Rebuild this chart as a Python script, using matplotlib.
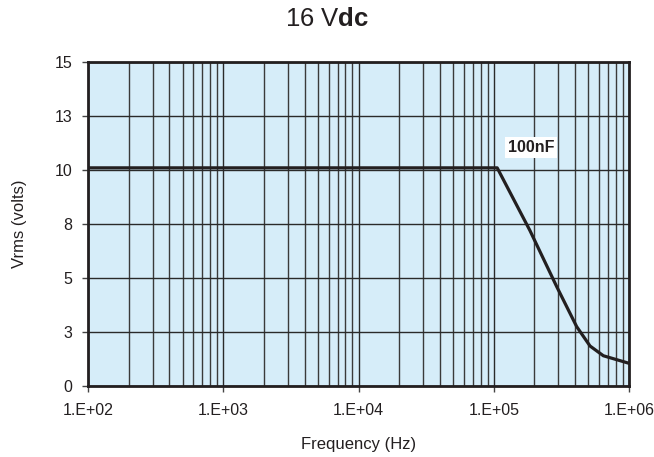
import matplotlib.pyplot as plt
from matplotlib.ticker import FixedLocator, FixedFormatter, LogLocator, NullFormatter

plt.rcParams['font.family'] = ['Liberation Sans', 'DejaVu Sans']
plt.rcParams['mathtext.fontset'] = 'custom'
plt.rcParams['mathtext.rm'] = 'Liberation Sans'
plt.rcParams['mathtext.bf'] = 'Liberation Sans:bold'

# curve
freq = [1e2, 1.06e5, 1.85e5, 2.92e5, 4.1e5, 5.15e5, 6.46e5, 1e6]
vrms = [10.1, 10.1, 7.2, 4.6, 2.75, 1.85, 1.4, 1.05]

y_ticks = [0, 2.5, 5, 7.5, 10, 12.5, 15]
y_labels = ['0', '3', '5', '8', '10', '13', '15']
x_ticks = [1e2, 1e3, 1e4, 1e5, 1e6]
x_labels = ['1.E+02', '1.E+03', '1.E+04', '1.E+05', '1.E+06']

fig = plt.figure(figsize=(6.54, 4.57), dpi=100)
ax = fig.add_axes([0.1346, 0.1554, 0.8272, 0.7089])
ax.set_facecolor('#d6edf9')

ax.plot(freq, vrms, color='#231f20', lw=2.3, solid_joinstyle='round', zorder=3)

ax.set_xscale('log')
ax.set_xlim(1e2, 1e6)
ax.set_ylim(0, 15)

ax.xaxis.set_major_locator(FixedLocator(x_ticks))
ax.xaxis.set_major_formatter(FixedFormatter(x_labels))
ax.xaxis.set_minor_locator(LogLocator(base=10, subs=range(2, 10)))
ax.xaxis.set_minor_formatter(NullFormatter())
ax.yaxis.set_major_locator(FixedLocator(y_ticks))
ax.yaxis.set_major_formatter(FixedFormatter(y_labels))

ax.grid(True, which='major', color='#2a2a2a', lw=1.0, zorder=1)
ax.grid(True, which='minor', axis='x', color='#3a3a3a', lw=1.0, zorder=1)
ax.set_axisbelow(True)

ax.tick_params(which='major', direction='out', length=4, width=1, color='#444444',
               labelsize=11.5, labelcolor='#231f20')
ax.tick_params(axis='x', pad=8)
ax.tick_params(axis='y', pad=7.5)
ax.tick_params(which='minor', length=0)

for s in ax.spines.values():
    s.set_linewidth(2)
    s.set_color('#231f20')

ax.set_xlabel('Frequency (Hz)', fontsize=12, color='#231f20')
ax.set_ylabel('Vrms (volts)', fontsize=12, color='#231f20')
ax.xaxis.set_label_coords(0.5, -0.157)
ax.yaxis.set_label_coords(-0.1128, 0.5)

ax.text(1.89e5, 11.05, '100nF', fontsize=11.5, fontweight='bold', color='#231f20',
        ha='center', va='center', zorder=4,
        bbox=dict(facecolor='white', edgecolor='none', pad=2))

fig.text(0.5, 0.958, r'16 V$\mathbf{dc}$', fontsize=18.5, ha='center', va='center',
         color='#231f20')

fig.savefig('out.png', dpi=100)
